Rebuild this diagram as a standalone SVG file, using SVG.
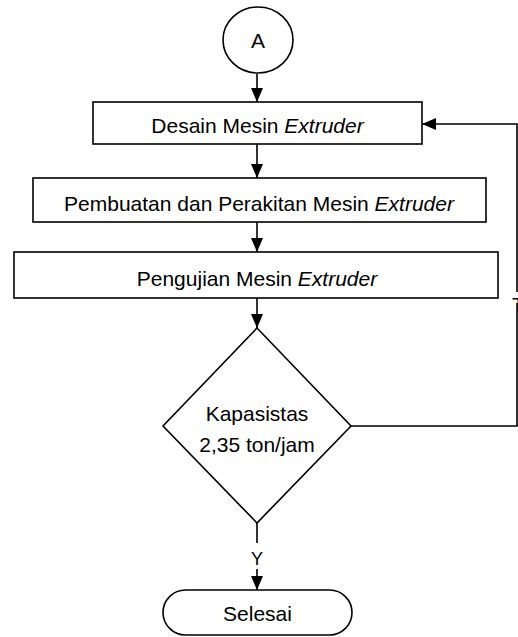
<svg xmlns="http://www.w3.org/2000/svg" width="518" height="637" viewBox="0 0 518 637">
<style>
.shape{fill:#fff;stroke:#000;stroke-width:1.6}
.conn{fill:none;stroke:#000;stroke-width:1.6}
text{font-family:"Liberation Sans",Arial,sans-serif;font-size:21px;fill:#000;text-anchor:middle}
.it{font-style:italic}
</style>
<defs>
<marker id="arr" markerUnits="userSpaceOnUse" markerWidth="14" markerHeight="14" viewBox="0 0 14 14" refX="14" refY="7" orient="auto">
<path d="M0,1 L14,7 L0,13 Z" fill="#000"/>
</marker>
</defs>
<rect width="518" height="637" fill="#fff"/>
<g id="connectors">
<path class="conn" d="M257,74 V102" marker-end="url(#arr)"/>
<path class="conn" d="M257,144 V178" marker-end="url(#arr)"/>
<path class="conn" d="M257,222 V252" marker-end="url(#arr)"/>
<path class="conn" d="M257,298 V328" marker-end="url(#arr)"/>
<path class="conn" d="M257,523 V543 M257,569 V590" marker-end="url(#arr)"/>
<text x="257" y="565" style="font-size:18px">Y</text>
<path class="conn" d="M351,426 H517 V303"/>
<path class="conn" d="M517,292 V124 H422" marker-end="url(#arr)"/>
<text x="512" y="312" style="text-anchor:start">T</text>
</g>
<g id="nodeA">
<ellipse class="shape" cx="258" cy="40" rx="35" ry="33"/>
<text x="258" y="48">A</text>
</g>
<g id="desain">
<rect class="shape" x="93" y="102" width="329" height="42"/>
<text x="257.5" y="133">Desain Mesin <tspan class="it">Extruder</tspan></text>
</g>
<g id="pembuatan">
<rect class="shape" x="33" y="178" width="453" height="44"/>
<text x="259" y="211">Pembuatan dan Perakitan Mesin <tspan class="it">Extruder</tspan></text>
</g>
<g id="pengujian">
<rect class="shape" x="14" y="252" width="484" height="46"/>
<text x="257" y="286">Pengujian Mesin <tspan class="it">Extruder</tspan></text>
</g>
<g id="kapasitas">
<polygon class="shape" points="257,328 351,426 257,523 163,426"/>
<text x="257" y="421">Kapasistas</text>
<text x="257" y="452">2,35 ton/jam</text>
</g>
<g id="selesai">
<rect class="shape" x="163" y="590" width="189" height="45" rx="22.5" ry="22.5"/>
<text x="257.5" y="621">Selesai</text>
</g>
</svg>
